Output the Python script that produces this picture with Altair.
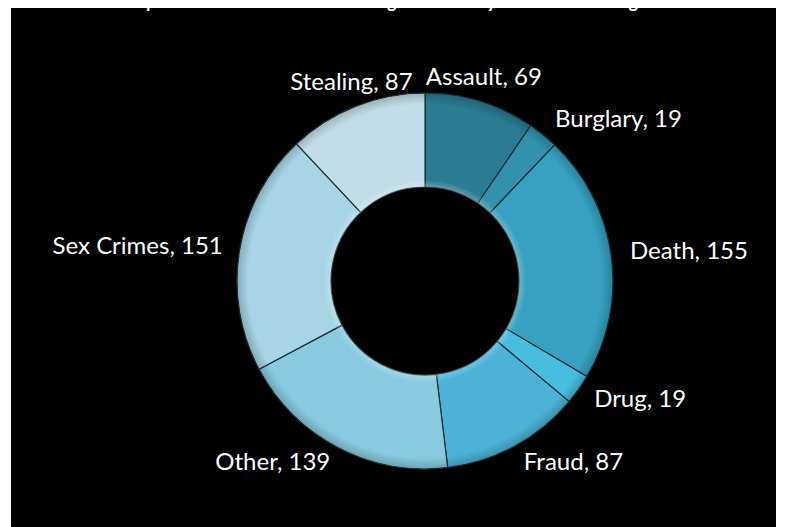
import altair as alt
import pandas as pd

categories = ["Assault", "Burglary", "Death", "Drug", "Fraud", "Other", "Sex Crimes", "Stealing"]
values = [69, 19, 155, 19, 87, 139, 151, 87]
colors = ["#2b7b92", "#3291ad", "#36a1c0", "#47bde0", "#4ab3d7", "#88cbe0", "#a6d6e6", "#c2dde7"]
title_text = "Comparison of Exonerations Among Offenses by Conviction Categories"

df = pd.DataFrame({"category": categories, "value": values, "idx": list(range(len(categories)))})

CX, CY = 414, 273
R_OUT, R_IN = 188, 94
FONT = "Lato"
TWO_PI = 6.283185307

base = alt.Chart(df).transform_joinaggregate(
    total="sum(value)"
).transform_window(
    cum="sum(value)", sort=[alt.SortField("idx")], frame=[None, 0]
).transform_calculate(
    start="(datum.cum - datum.value) / datum.total",
    end="datum.cum / datum.total",
    mid="(datum.cum - datum.value / 2) / datum.total",
    label="datum.category + ', ' + datum.value",
)

theta_scale = alt.Scale(domain=[0, 1], range=[0, TWO_PI])

arcs = base.mark_arc(
    innerRadius=R_IN, outerRadius=R_OUT, stroke="#1a2e35", strokeWidth=1.2
).encode(
    theta=alt.Theta("start:Q", stack=False, scale=theta_scale),
    theta2="end:Q",
    color=alt.Color("category:N", scale=alt.Scale(domain=categories, range=colors), legend=None),
    x=alt.value(CX),
    y=alt.value(CY),
)

overlay = alt.Chart(alt.Data(values=[{"ring": 1}])).mark_arc(
    innerRadius=R_IN, outerRadius=R_OUT, theta=0, theta2=TWO_PI,
    fill={
        "gradient": "radial",
        "x1": 0.5, "y1": 0.5, "r1": 0.25,
        "x2": 0.5, "y2": 0.5, "r2": 0.5,
        "stops": [
            {"offset": 0, "color": "rgba(255,255,255,0.25)"},
            {"offset": 0.08, "color": "rgba(255,255,255,0)"},
            {"offset": 0.88, "color": "rgba(0,0,0,0)"},
            {"offset": 1, "color": "rgba(0,0,0,0.2)"},
        ],
    },
).encode(x=alt.value(CX), y=alt.value(CY))

theta_enc = alt.Theta("mid:Q", stack=False, scale=theta_scale)

text_right = base.transform_filter(
    "datum.mid >= 0.08 && datum.mid < 0.5"
).mark_text(radius=207, align="left", baseline="middle", font=FONT, fontSize=24, color="white").encode(
    theta=theta_enc, text="label:N", x=alt.value(CX), y=alt.value(CY)
)

text_left = base.transform_filter(
    "datum.mid >= 0.5 && datum.mid <= 0.92"
).mark_text(radius=205, align="right", baseline="middle", font=FONT, fontSize=24, color="white").encode(
    theta=theta_enc, text="label:N", x=alt.value(CX), y=alt.value(CY)
)

text_top = base.transform_filter(
    "datum.mid < 0.08 || datum.mid > 0.92"
).mark_text(radius=200, align="center", baseline="bottom", font=FONT, fontSize=24, color="white").encode(
    theta=theta_enc, text="label:N", x=alt.value(CX), y=alt.value(CY)
)

title = alt.Chart(alt.Data(values=[{"t": title_text}])).mark_text(
    font=FONT, fontSize=18, fontWeight="bold", color="white", align="center", baseline="alphabetic"
).encode(text="t:N", x=alt.value(382), y=alt.value(-0.5))

chart = alt.layer(arcs, overlay, text_right, text_left, text_top, title).properties(
    width=765,
    height=519,
    autosize=alt.AutoSizeParams(type="none"),
    padding={"left": 3, "top": 0, "right": 0, "bottom": 0},
    background="white",
).configure_view(fill="black", strokeWidth=0)

chart.save("out.html", embed_options={"renderer": "svg", "actions": False})
